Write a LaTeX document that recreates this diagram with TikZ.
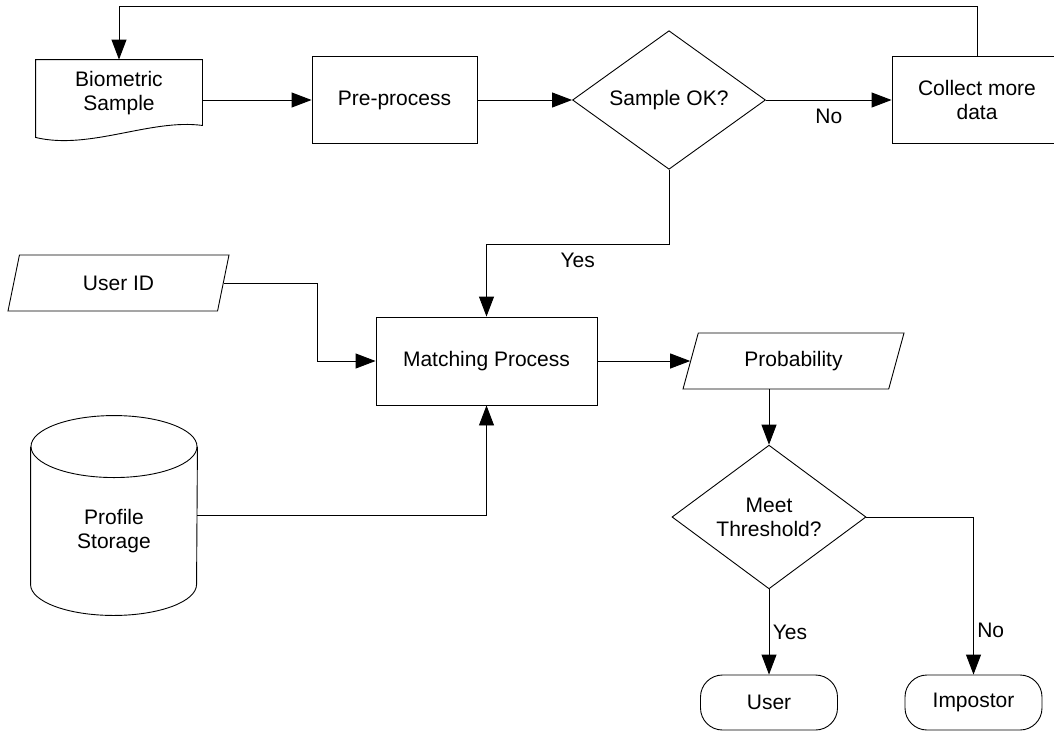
\documentclass[tikz,border=0pt]{standalone}
\usepackage{fontspec}
\setmainfont{Liberation Sans}
\usepackage{tikz}
\usetikzlibrary{arrows.meta,positioning,shapes.geometric,calc}

\begin{document}
\begin{tikzpicture}[
            x=1pt, y=-1pt,
            font=\fontsize{21}{24}\selectfont,
            line width=0.9pt,
            proc/.style={draw, inner sep=0pt, align=center,
            minimum width=165pt, minimum height=87pt},
            dec/.style={draw, diamond, inner sep=0pt, align=center,
            minimum width=193pt, minimum height=135pt},
            io/.style={draw, trapezium, trapezium left angle=52,
            trapezium right angle=128, trapezium stretches body,
            inner sep=0pt, minimum width=221pt, minimum height=56pt},
            term/.style={draw, rounded corners=22pt, inner sep=0pt,
            minimum width=137pt, minimum height=55pt},
            doc/.style={inner sep=0pt, align=center,
            minimum width=166pt, minimum height=66pt},
            db/.style={inner sep=0pt, minimum width=166pt, minimum height=200pt},
            ar/.style={-{Triangle[length=20pt,width=15pt]}}
        ]
            \useasboundingbox (0,0) rectangle (1054,731);

% Capture row
            \node[doc]              (bio)   at (119,93)    {Biometric\\Sample};
            \draw (bio.north west) -- (bio.north east) -- ($(bio.south east)+(0,-1)$)
                .. controls +(-52,-7) and +(54,13) .. ($(bio.south west)+(0,11)$) -- cycle;
            \node[proc]             (pre)   at (394.5,100) {Pre-process};
            \node[dec]              (sok)   at (669,100)   {Sample OK?};
            \node[proc, minimum width=170pt] (more) at (977,100) {Collect more\\data};

% Matching
            \node[io]               (uid)   at (118.5,283) {User ID};
            \node[proc, minimum width=221pt, minimum height=88pt] (match) at (486.5,361) {Matching Process};
            \node[db, label={[align=center, yshift=-16pt]center:Profile\\Storage}]
                                    (store) at (114,515)   {};
            \draw ($(store.north west)+(0,32)$) -- ($(store.south west)+(0,-31)$)
                arc[start angle=180, end angle=360, x radius=83pt, y radius=31pt]
                -- ($(store.north east)+(0,32)$);
            \draw ($(store.north)+(0,32)$) ellipse[x radius=83pt, y radius=31pt];
            \node[io]               (prob)  at (793.5,361) {Probability};

% Decision
            \node[dec, minimum width=194pt, minimum height=136pt] (thr) at (769,517) {Meet\\Threshold?};
            \node[term]             (usr)   at (769,702.5) {User};
            \node[term]             (imp)   at (973.5,702.5) {Impostor};

            \draw[ar] (bio.east |- pre.west) -- (pre.west);
            \draw[ar] (pre) -- (sok);
            \draw[ar] (sok) -- node[below=5pt] {No} (more);
            \draw[ar] (more.north) -- ++(0,-50) -| (bio.north);
            \draw[ar] (sok.south) -- ++(0,75) -| node[pos=0.25, below=4pt] {Yes} (match.north);
            \draw[ar] (uid.right side) -- ++(94,0) |- (match.west);
            \draw[ar] (store.east) -| (match.south);
            \draw[ar] (match.east) -- (prob.left side);
            \draw[ar] (prob.south -| thr.north) -- (thr.north);
            \draw[ar] (thr.south) -- node[right] {Yes} (usr.north);
            \draw[ar] (thr.east) -| node[pos=0.86, right] {No} (imp.north);
        \end{tikzpicture}
\end{document}
